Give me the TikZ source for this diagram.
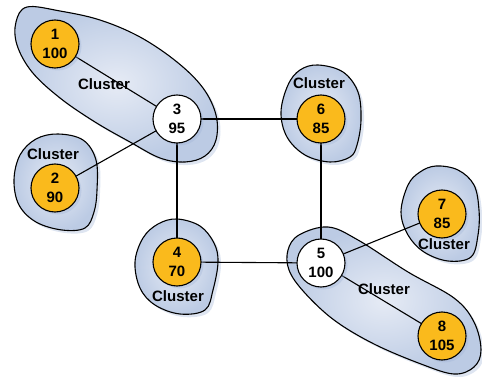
\documentclass[tikz,border=0pt]{standalone}
\usepackage{fontspec}
\setmainfont{Liberation Sans}
\usetikzlibrary{shadows}
\definecolor{clLight}{RGB}{230,235,245}
\definecolor{clDark}{RGB}{188,203,228}
\definecolor{nodeYellow}{RGB}{250,186,28}
\definecolor{shadowBlue}{RGB}{160,180,215}
\tikzset{
  cluster/.style={draw=black, line width=1.1pt, inner color=clLight, outer color=clDark,
    drop shadow={shadow xshift=3pt, shadow yshift=-3pt, fill=shadowBlue, opacity=0.35}},
  vertex/.style={circle, draw=black, line width=1.1pt, minimum size=48pt, inner sep=0pt,
    align=center, font=\fontsize{15}{19}\selectfont\bfseries,
    drop shadow={shadow xshift=2.5pt, shadow yshift=-2.5pt, fill=shadowBlue, opacity=0.35}},
  leaf/.style={vertex, fill=nodeYellow},
  hub/.style={vertex, fill=white},
  clabel/.style={font=\fontsize{15}{17}\selectfont\bfseries, inner sep=0pt},
  link/.style={draw=black, line width=1.1pt}
}
\begin{document}
\begin{tikzpicture}[x=1pt, y=-1pt]
\useasboundingbox (0,0) rectangle (482,377);
% clusters
\path[cluster] plot[smooth cycle, tension=0.6] coordinates {(27,7) (60,11) (100,20) (140,37) (177,62) (203,88) (216,115) (216,140) (205,156) (185,162) (160,158) (130,142) (95,122) (60,98) (32,72) (17,45) (16,22)};
\path[cluster] plot[smooth cycle, tension=0.6] coordinates {(58,134) (83,140) (96,160) (97,190) (94,212) (85,228) (62,230) (36,222) (19,205) (14,180) (20,155) (36,139)};
\path[cluster] plot[smooth cycle, tension=0.6] coordinates {(318,65) (343,72) (358,92) (361,120) (357,145) (350,157) (330,162) (305,155) (287,137) (281,112) (288,85) (300,70)};
\path[cluster] plot[smooth cycle, tension=0.6] coordinates {(177,219) (200,226) (214,243) (218,262) (213,290) (205,310) (180,314) (155,305) (140,288) (135,262) (143,238) (158,224)};
\path[cluster] plot[smooth cycle, tension=0.6] coordinates {(436,166) (458,170) (474,185) (479,210) (478,235) (471,257) (448,261) (424,252) (408,235) (401,212) (408,185) (420,172)};
\path[cluster] plot[smooth cycle, tension=0.6] coordinates {(299,235) (328,227) (358,240) (408,272) (454,298) (474,322) (481,350) (474,367) (454,374) (421,364) (374,344) (334,320) (304,292) (289,270) (288,250)};
% cluster labels
\node[clabel] (lA) at (104,84) {Cluster};
\node[clabel] (lB) at (53,154) {Cluster};
\node[clabel] (lC) at (319,83) {Cluster};
\node[clabel] (lD) at (178,296) {Cluster};
\node[clabel] (lE) at (444,244) {Cluster};
\node[clabel] (lF) at (384,289) {Cluster};
% node coordinates
\coordinate (p1) at (55,44);
\coordinate (p2) at (55,188);
\coordinate (p3) at (177,119);
\coordinate (p4) at (177,262);
\coordinate (p5) at (321,263);
\coordinate (p6) at (321,119);
\coordinate (p7) at (442,214);
\coordinate (p8) at (442,336);
% edges
\draw[link] (p1) -- (p3);
\draw[link] (p3) -- (p2);
\draw[link] (p3) -- (p6);
\draw[link] (p3) -- (p4);
\draw[link] (p6) -- (p5);
\draw[link] (p4) -- (p5);
\draw[link] (p5) -- (p7);
\draw[link] (p5) -- (p8);
% nodes
\node[leaf] (n1) at (p1) {1\\100};
\node[leaf] (n2) at (p2) {2\\90};
\node[hub]  (n3) at (p3) {3\\95};
\node[leaf] (n4) at (p4) {4\\70};
\node[hub]  (n5) at (p5) {5\\100};
\node[leaf] (n6) at (p6) {6\\85};
\node[leaf] (n7) at (p7) {7\\85};
\node[leaf] (n8) at (p8) {8\\105};
\end{tikzpicture}
\end{document}
